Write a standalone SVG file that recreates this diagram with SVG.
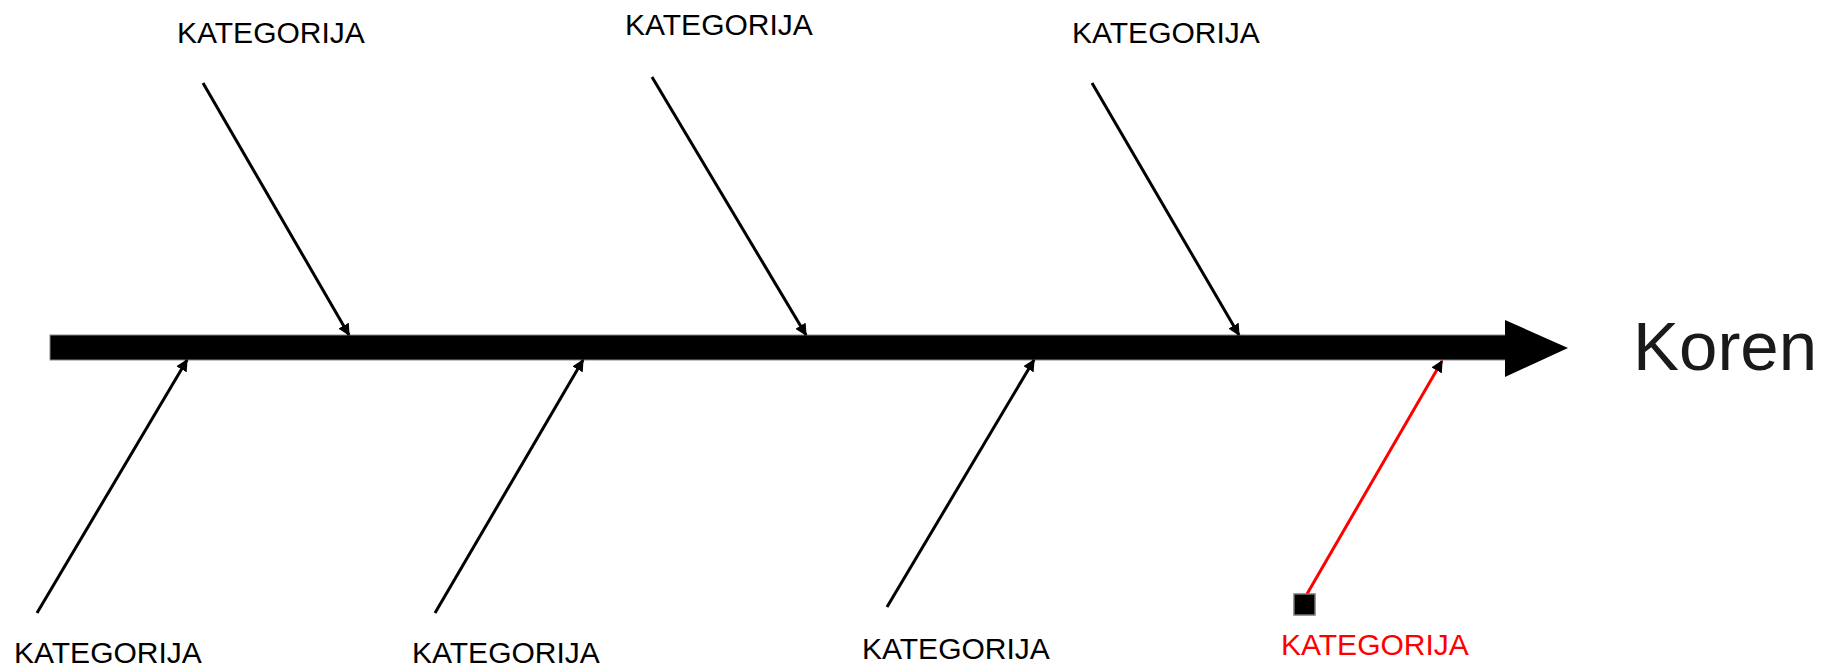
<svg xmlns="http://www.w3.org/2000/svg" width="1825" height="667" viewBox="0 0 1825 667">
<defs>
<style>
.lbl{font-family:"Liberation Sans",Arial,sans-serif;font-size:30px;fill:#000}
.red{fill:#ff0000}
.bone{stroke:#000;stroke-width:3;fill:none;marker-end:url(#ah)}
.rbone{stroke:#ff0000;stroke-width:3;fill:none;marker-end:url(#ahr)}
</style>
<marker id="ah" viewBox="0 0 10 10" refX="9" refY="5" markerWidth="4" markerHeight="4" orient="auto" markerUnits="strokeWidth">
<path d="M0,0 L10,5 L0,10 z" fill="#000"/>
</marker>
<marker id="ahr" viewBox="0 0 10 10" refX="9" refY="5" markerWidth="4" markerHeight="4" orient="auto" markerUnits="strokeWidth">
<path d="M0,0 L10,5 L0,10 z" fill="#000"/>
</marker>
</defs>
<rect width="1825" height="667" fill="#fff"/>
<g id="spine">
<rect x="50" y="335" width="1458" height="25" fill="#000" stroke="#888" stroke-width="1"/>
<polygon points="1505,320 1568,348 1505,377" fill="#000"/>
</g>
<g id="connectors">
<line class="bone" x1="203" y1="83" x2="349" y2="335"/>
<line class="bone" x1="652" y1="77" x2="806" y2="335"/>
<line class="bone" x1="1092" y1="83" x2="1239" y2="335"/>
<line class="bone" x1="37" y1="613" x2="187" y2="360"/>
<line class="bone" x1="435" y1="613" x2="583" y2="360"/>
<line class="bone" x1="887" y1="607" x2="1034" y2="360"/>
<line class="rbone" x1="1307" y1="594" x2="1442" y2="361"/>
</g>
<g id="root"><text x="1633" y="370" font-family="Liberation Sans,Arial,sans-serif" font-size="69" fill="#1a1a1a">Koren</text></g>
<g id="cat-top-1"><text class="lbl" x="177" y="43">KATEGORIJA</text></g>
<g id="cat-top-2"><text class="lbl" x="625" y="35">KATEGORIJA</text></g>
<g id="cat-top-3"><text class="lbl" x="1072" y="43">KATEGORIJA</text></g>
<g id="cat-bot-1"><text class="lbl" x="14" y="663">KATEGORIJA</text></g>
<g id="cat-bot-2"><text class="lbl" x="412" y="663">KATEGORIJA</text></g>
<g id="cat-bot-3"><text class="lbl" x="862" y="659">KATEGORIJA</text></g>
<g id="cat-bot-4">
<rect x="1294" y="594" width="21" height="21" fill="#000" stroke="#777" stroke-width="1.5"/>
<text class="lbl red" x="1281" y="655">KATEGORIJA</text>
</g>
</svg>
